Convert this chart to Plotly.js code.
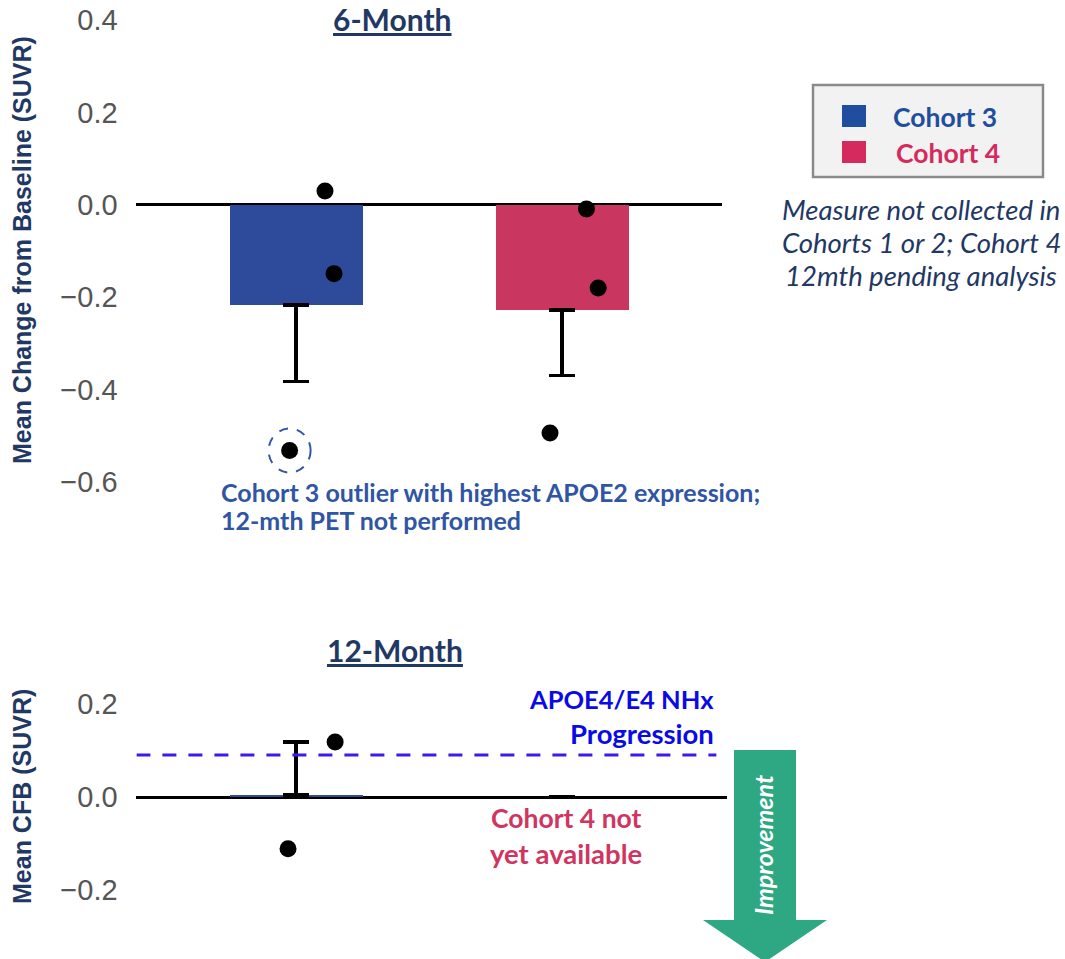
<!DOCTYPE html>
<html>
<head>
<meta charset="utf-8">
<script src="https://cdn.plot.ly/plotly-3.0.1.min.js"></script>
<style>
  html, body { margin: 0; padding: 0; background: #ffffff; }
  #chart { width: 1065px; height: 959px; }
</style>
</head>
<body>
<div id="chart"></div>
<script>
// ---- data ----
const cohorts = ['Cohort 3', 'Cohort 4'];
const cohortColors = ['#2d4b9a', '#c9365f'];
const legendColors = ['#1f4e9e', '#d42a5e'];

// 6-month mean change from baseline (SUVR) and SEM
const mean6 = [-0.217, -0.228];
const sem6 = [0.165, 0.142];
// individual participants, 6-month
const c3Ind6 = [0.030, -0.149, -0.532];
const c3Jit6 = [0.109, 0.143, -0.024];
const c4Ind6 = [-0.009, -0.180, -0.494];
const c4Jit6 = [0.092, 0.136, -0.045];

// 12-month (Cohort 4 not yet available)
const mean12 = [0.004, 0];
const sem12 = [0.114, 0];
const c3Ind12 = [0.118, -0.111];
const c3Jit12 = [0.147, -0.030];

// natural-history progression reference, APOE4/E4
const nhxProgression = 0.09;

// ---- page geometry helpers (pixels -> paper) ----
const W = 1065, H = 959;
const px = x => x / W;
const py = y => 1 - y / H;

const idx = cohorts.map((_, i) => i);
const navy = '#1f3864';
const tickFont = { family: 'Liberation Sans, Arial, sans-serif', size: 29, color: '#555555' };

const traces = [
  {
    type: 'bar', x: idx, y: mean6, width: 0.5, name: '6-Month',
    marker: { color: cohortColors },
    error_y: { type: 'data', symmetric: false, array: [0, 0], arrayminus: sem6,
               color: '#000000', thickness: 3.5, width: 13 },
    xaxis: 'x', yaxis: 'y', hoverinfo: 'skip'
  },
  {
    type: 'scatter', mode: 'markers', name: cohorts[0] + ' 6-Month',
    x: c3Jit6.map(j => 0 + j), y: c3Ind6,
    marker: { color: '#000000', size: 17 }, xaxis: 'x', yaxis: 'y'
  },
  {
    type: 'scatter', mode: 'markers', name: cohorts[1] + ' 6-Month',
    x: c4Jit6.map(j => 1 + j), y: c4Ind6,
    marker: { color: '#000000', size: 17 }, xaxis: 'x', yaxis: 'y'
  },
  {
    type: 'bar', x: idx, y: mean12, width: 0.5, name: '12-Month',
    marker: { color: cohortColors },
    error_y: { type: 'data', symmetric: false, array: sem12, arrayminus: [0, 0],
               color: '#000000', thickness: 3.5, width: 13 },
    xaxis: 'x2', yaxis: 'y2', hoverinfo: 'skip'
  },
  {
    type: 'scatter', mode: 'markers', name: cohorts[0] + ' 12-Month',
    x: c3Jit12.map(j => 0 + j), y: c3Ind12,
    marker: { color: '#000000', size: 17 }, xaxis: 'x2', yaxis: 'y2'
  }
];

const yCommon = {
  showgrid: false, showline: false, zeroline: true,
  zerolinecolor: '#000000', zerolinewidth: 3,
  dtick: 0.2, tick0: 0, tickformat: '.1f',
  ticks: 'outside', ticklen: 12, tickcolor: 'rgba(0,0,0,0)',
  tickfont: tickFont
};
const xCommon = {
  showgrid: false, showline: false, zeroline: false,
  showticklabels: false, ticks: ''
};

const annFontB = (size, color) => ({ family: 'Lato, sans-serif', size: size, color: color });
const annotations = [
  { text: '<b><u>6-Month</u></b>', x: px(392), y: py(19), font: annFontB(30, navy) },
  { text: '<b><u>12-Month</u></b>', x: px(395), y: py(650), font: annFontB(30, navy) },
  { text: '<b>Mean Change from Baseline (SUVR)</b>', x: px(22), y: py(250), textangle: -90,
    font: { family: 'Liberation Sans, Arial, sans-serif', size: 25, color: navy } },
  { text: '<b>Mean CFB (SUVR)</b>', x: px(22), y: py(797), textangle: -90,
    font: { family: 'Liberation Sans, Arial, sans-serif', size: 25, color: navy } },
  { text: '<b>Cohort 3 outlier with highest APOE2 expression;</b>', x: px(219), y: py(492), xanchor: 'left',
    font: annFontB(25, '#2f55a4') },
  { text: '<b>12-mth PET not performed</b>', x: px(219), y: py(520), xanchor: 'left',
    font: annFontB(25, '#2f55a4') },
  { text: '<b>' + cohorts[0] + '</b>', x: px(891), y: py(117), xanchor: 'left', font: annFontB(26.5, legendColors[0]) },
  { text: '<b>' + cohorts[1] + '</b>', x: px(894), y: py(153), xanchor: 'left', font: annFontB(26.5, legendColors[1]) },
  { text: '<i>Measure not collected in</i>', x: px(921), y: py(209), font: annFontB(27.5, navy) },
  { text: '<i>Cohorts 1 or 2; Cohort 4</i>', x: px(921), y: py(242), font: annFontB(27.5, navy) },
  { text: '<i>12mth pending analysis</i>', x: px(921), y: py(275), font: annFontB(27.5, navy) },
  { text: '<b>APOE4/E4 NHx</b>', x: px(716), y: py(699), xanchor: 'right', font: annFontB(25.5, '#0a0ae6') },
  { text: '<b>Progression</b>', x: px(716), y: py(733), xanchor: 'right', font: annFontB(27.5, '#0a0ae6') },
  { text: '<b>Cohort 4 not</b>', x: px(566), y: py(818), font: annFontB(26.5, '#d0355f') },
  { text: '<b>yet available</b>', x: px(566), y: py(853), font: annFontB(27.5, '#d0355f') },
  { text: '<b><i>Improvement</i></b>', x: px(763), y: py(845), textangle: -90,
    font: annFontB(25, '#ffffff') }
].map(a => Object.assign({ xref: 'paper', yref: 'paper', showarrow: false,
                           xanchor: 'center', yanchor: 'middle' }, a));

// downward arrow (lower SUVR = improvement)
const arrowPts = [[734, 750], [796, 750], [796, 920], [827, 920], [765, 962], [703, 920], [734, 920]];
const arrowPath = 'M ' + arrowPts.map(p => px(p[0]) + ',' + py(p[1])).join(' L ') + ' Z';

const shapes = [
  { type: 'rect', xref: 'paper', yref: 'paper', x0: px(813), x1: px(1043), y0: py(177), y1: py(85),
    fillcolor: '#f2f2f2', line: { color: '#8a8a8a', width: 2.5 } },
  { type: 'rect', xref: 'paper', yref: 'paper', x0: px(842), x1: px(866), y0: py(127), y1: py(105),
    fillcolor: legendColors[0], line: { width: 0 } },
  { type: 'rect', xref: 'paper', yref: 'paper', x0: px(842), x1: px(866), y0: py(163), y1: py(141),
    fillcolor: legendColors[1], line: { width: 0 } },
  { type: 'circle', xref: 'x', yref: 'y', xsizemode: 'pixel', ysizemode: 'pixel',
    xanchor: 0 + c3Jit6[2], yanchor: c3Ind6[2], x0: -21, x1: 21, y0: -22, y1: 22,
    line: { color: '#2f55a4', width: 2, dash: 'dash' } },
  { type: 'line', xref: 'x2', yref: 'y2', x0: -0.6, x1: 1.58, y0: nhxProgression, y1: nhxProgression,
    line: { color: '#3a1af0', width: 3, dash: '14px,12px' } },
  { type: 'path', xref: 'paper', yref: 'paper', path: arrowPath,
    fillcolor: '#2ea882', line: { width: 0 } }
];

const layout = {
  width: W, height: H, autosize: false,
  margin: { l: 0, r: 0, t: 0, b: 0, pad: 0 },
  paper_bgcolor: '#ffffff', plot_bgcolor: '#ffffff',
  showlegend: false, bargap: 0,
  xaxis: Object.assign({ domain: [px(136.4), px(721.6)], range: [-0.6, 1.6], anchor: 'y' }, xCommon),
  yaxis: Object.assign({ domain: [py(491.2), py(10.8)], range: [-0.62, 0.42], anchor: 'x' }, yCommon),
  xaxis2: Object.assign({ domain: [px(136.4), px(727)], range: [-0.6, 1.62], anchor: 'y2' }, xCommon),
  yaxis2: Object.assign({ domain: [py(936.8), py(680.5)], range: [-0.3, 0.25], anchor: 'x2' }, yCommon),
  annotations: annotations,
  shapes: shapes
};

Plotly.newPlot('chart', traces, layout, { displayModeBar: false, staticPlot: true });
</script>
</body>
</html>
